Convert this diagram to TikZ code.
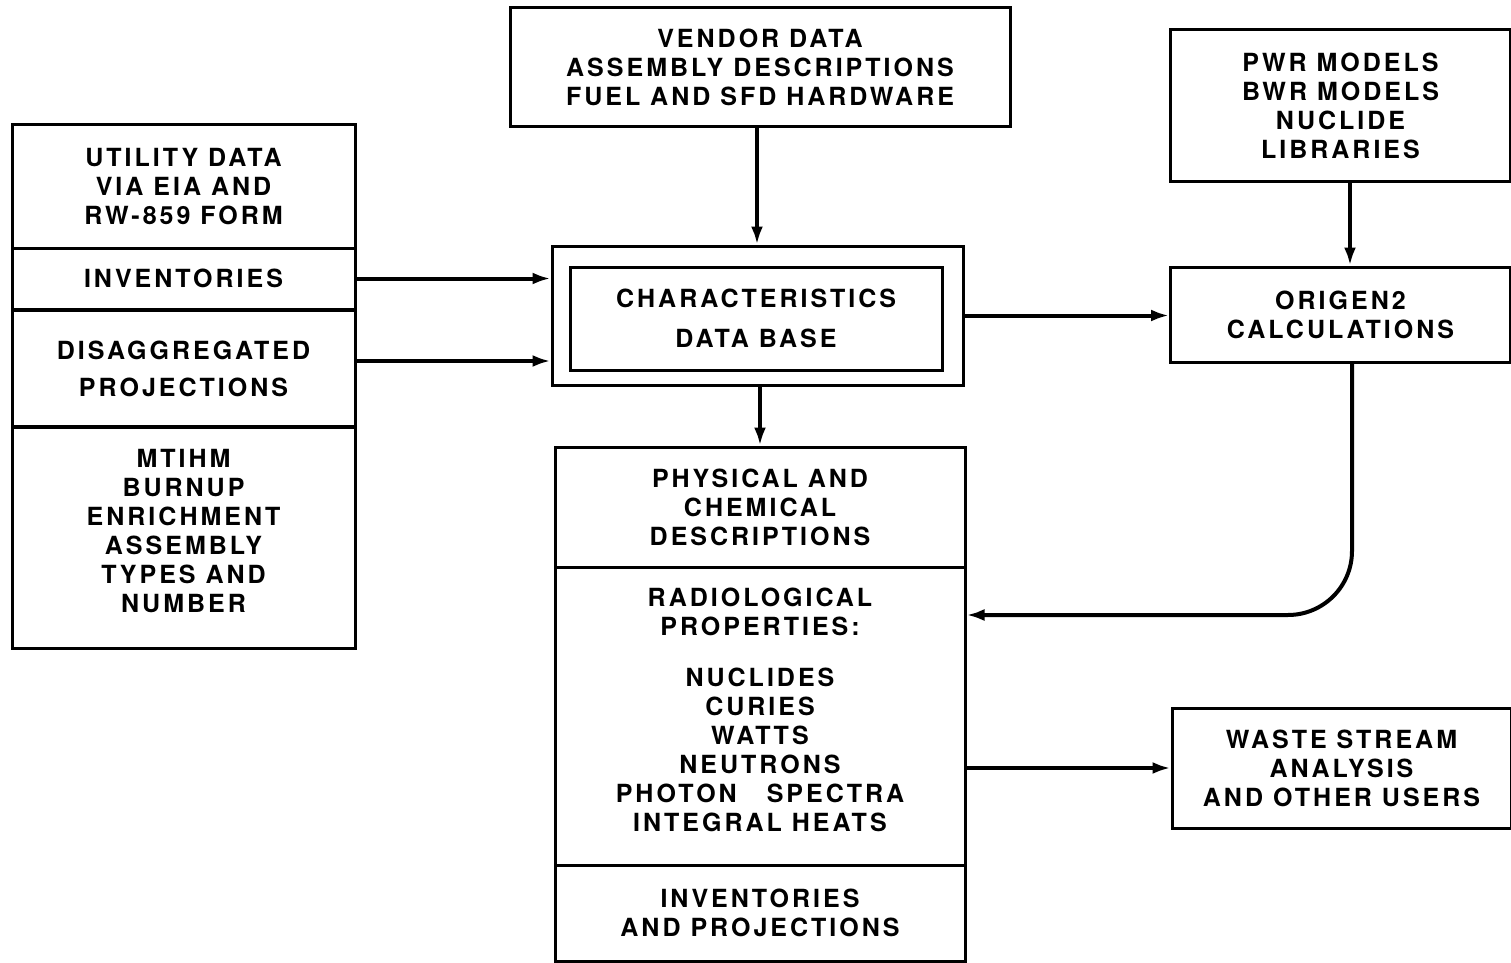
\documentclass[tikz,border=0pt]{standalone}
\usepackage{fontspec}
\setmainfont{TeX Gyre Heros}[LetterSpace=12]
\usetikzlibrary{arrows.meta}
\tikzset{
  box/.style={draw, line width=1.5pt, rectangle, inner sep=0pt, align=center,
    font=\fontsize{12.5}{14.5}\selectfont\bfseries},
  txt/.style={inner sep=0pt, align=center, font=\fontsize{12.5}{14.5}\selectfont\bfseries},
  conn/.style={line width=2pt, -{Latex[length=9pt,width=6pt]}},
}
\begin{document}
\begin{tikzpicture}[x=0.5pt,y=-0.5pt]
\useasboundingbox (0,0) rectangle (1511,963);
% vendor
\node[box, minimum width=250pt, minimum height=59.5pt] (vendor) at (760,67.5)
  {VENDOR DATA\\ASSEMBLY DESCRIPTIONS\\FUEL AND SFD HARDWARE};
% PWR models
\node[box, minimum width=170pt, minimum height=76pt] (pwr) at (1340.5,106)
  {PWR MODELS\\BWR MODELS\\NUCLIDE\\LIBRARIES};
% utility stack
\node[box, minimum width=171.5pt, minimum height=61.5pt] (util) at (183.5,186.5)
  {UTILITY DATA\\VIA EIA AND\\RW-859 FORM};
\node[box, minimum width=171.5pt, minimum height=30.5pt] (inv) at (183.5,278.5)
  {INVENTORIES};
\node[box, minimum width=171.5pt, minimum height=58.5pt, font=\fontsize{12.5}{18.5}\selectfont\bfseries] (disag) at (183.5,369)
  {DISAGGREGATED\\PROJECTIONS};
\node[box, minimum width=171.5pt, minimum height=111pt] (mtihm) at (183.5,537) {};
\node[txt] (mtihmtxt) at (183.5,531)
  {MTIHM\\BURNUP\\ENRICHMENT\\ASSEMBLY\\TYPES AND\\NUMBER};
% characteristics
\node[box, minimum width=205.5pt, minimum height=69.5pt] (charout) at (757.5,315.5) {};
\node[box, minimum width=186pt, minimum height=51.5pt, font=\fontsize{12.5}{20}\selectfont\bfseries] (charin) at (756,318.5)
  {CHARACTERISTICS\\DATA BASE};
% origen
\node[box, minimum width=170pt, minimum height=47.5pt] (origen) at (1340.5,314.5)
  {ORIGEN2\\CALCULATIONS};
% big box stack
\node[box, minimum width=205pt, minimum height=60pt] (phys) at (760,507)
  {PHYSICAL AND\\CHEMICAL\\DESCRIPTIONS};
\node[box, minimum width=205pt, minimum height=149pt] (radio) at (760,716) {};
\node[txt] (radiotxt) at (760,710)
  {RADIOLOGICAL\\PROPERTIES:\\[11pt]NUCLIDES\\CURIES\\WATTS\\NEUTRONS\\PHOTON\hspace{1.2em}SPECTRA\\INTEGRAL HEATS};
\node[box, minimum width=205pt, minimum height=48pt] (invproj) at (760,913)
  {INVENTORIES\\AND PROJECTIONS};
% waste
\node[box, minimum width=169.5pt, minimum height=60pt] (waste) at (1341.5,768)
  {WASTE STREAM\\ANALYSIS\\AND OTHER USERS};
% connectors
\draw[conn] (vendor.south -| 757,0) coordinate (v1) -- (charout.north -| v1);
\draw[conn] (inv.east) -- (charout.west |- inv.east);
\draw[conn] (disag.east |- 0,361) coordinate (d1) -- (charout.west |- d1);
\draw[conn] (charout.east) -- (origen.west |- charout.east);
\draw[conn] (pwr.south -| 1350,0) coordinate (p1) -- (origen.north -| p1);
\draw[conn] (charout.south -| 760,0) coordinate (c1) -- (phys.north -| c1);
\draw[conn, rounded corners=32pt] (origen.south -| 1352,0) coordinate (o1) -- (o1 |- 0,615) -- (radio.east |- 0,615);
\draw[conn] (radio.east |- 0,768) coordinate (r1) -- (waste.west |- r1);
\end{tikzpicture}
\end{document}
